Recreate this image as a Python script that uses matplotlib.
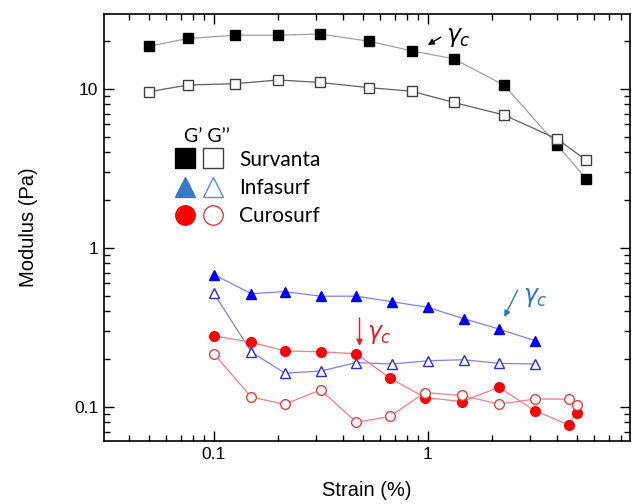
import matplotlib
matplotlib.use('Agg')
import matplotlib.pyplot as plt
from matplotlib.lines import Line2D
from matplotlib.legend_handler import HandlerTuple

# Survanta (strain %, G', G'')
surv_strain = [0.05, 0.076, 0.126, 0.2, 0.313, 0.53, 0.84, 1.32, 2.27, 4.02, 5.5]
surv_g1 = [18.6, 20.8, 21.8, 21.8, 22.2, 20.0, 17.4, 15.5, 10.6, 4.45, 2.73]
surv_g2 = [9.63, 10.6, 10.8, 11.4, 11.0, 10.2, 9.69, 8.24, 6.87, 4.85, 3.57]

# Infasurf
infa_strain = [0.1, 0.15, 0.215, 0.316, 0.464, 0.681, 1.0, 1.47, 2.15, 3.16]
infa_g1 = [0.68, 0.516, 0.531, 0.497, 0.497, 0.459, 0.423, 0.359, 0.309, 0.261]
infa_g2 = [0.519, 0.221, 0.163, 0.168, 0.190, 0.186, 0.195, 0.198, 0.188, 0.186]

# Curosurf
curo_strain = [0.1, 0.15, 0.215, 0.316, 0.464, 0.665, 0.97, 1.45, 2.15, 3.16, 4.56, 4.96]
curo_g1 = [0.280, 0.255, 0.225, 0.222, 0.216, 0.152, 0.1145, 0.108, 0.133, 0.0948, 0.077, 0.092]
curo_g2 = [0.216, 0.115, 0.104, 0.128, 0.080, 0.087, 0.123, 0.118, 0.104, 0.112, 0.112, 0.103]

plt.rcParams['font.family'] = ['Liberation Sans', 'DejaVu Sans']

fig = plt.figure(figsize=(6.32, 5.04), dpi=100)
ax = fig.add_axes([0.1646, 0.125, 0.832, 0.847])

# Survanta
ax.plot(surv_strain, surv_g1, '-', color='#a0a0a0', lw=0.9, marker='s', ms=6.5,
        mfc='black', mec='black', zorder=3)
ax.plot(surv_strain, surv_g2, '-', color='#606060', lw=0.9, marker='s', ms=6.5,
        mfc='white', mec='#404040', mew=1.0, zorder=3)

# Infasurf
ax.plot(infa_strain, infa_g1, '-', color='#8080e8', lw=0.9, marker='^', ms=7.5,
        mfc='#0000ee', mec='#0000ee', zorder=3)
ax.plot(infa_strain, infa_g2, '-', color='#8080e8', lw=0.9, marker='^', ms=7.5,
        mfc='white', mec='#2a2ae0', mew=1.0, zorder=3)

# Curosurf
ax.plot(curo_strain, curo_g1, '-', color='#f08080', lw=0.9, marker='o', ms=7,
        mfc='#ff0000', mec='#ff0000', zorder=3)
ax.plot(curo_strain, curo_g2, '-', color='#f08080', lw=0.9, marker='o', ms=7,
        mfc='white', mec='#e04040', mew=1.0, zorder=3)

ax.set_xscale('log')
ax.set_yscale('log')
ax.set_xlim(0.0307, 8.8)
ax.set_ylim(0.061, 29.6)
ax.set_xticks([0.1, 1])
ax.set_xticklabels(['0.1', '1'])
ax.set_yticks([0.1, 1, 10])
ax.set_yticklabels(['0.1', '1', '10'])

ax.tick_params(which='both', direction='in', top=True, right=True, width=1.0)
ax.tick_params(which='major', length=7, labelsize=12.5, pad=4)
ax.tick_params(which='minor', length=4)
for s in ax.spines.values():
    s.set_linewidth(1.2)

ax.set_xlabel('Strain (%)', fontsize=14.5, labelpad=14)
ax.set_ylabel('Modulus (Pa)', fontsize=14.5, labelpad=26)

# critical strain markers
arrow_kw = dict(arrowstyle='-|>', lw=1.0, mutation_scale=9, shrinkA=0, shrinkB=0)
ax.annotate('', xy=(1.0, 18.9), xytext=(1.15, 21.2),
            arrowprops=dict(color='black', **arrow_kw))
ax.text(1.22, 21.2, r'$\gamma_c$', fontsize=17, color='black', va='center')

ax.annotate('', xy=(2.28, 0.368), xytext=(2.63, 0.544),
            arrowprops=dict(color='#2a7ab8', **arrow_kw))
ax.text(2.8, 0.485, r'$\gamma_c$', fontsize=17, color='#2a7ab8', va='center')

ax.annotate('', xy=(0.48, 0.242), xytext=(0.48, 0.363),
            arrowprops=dict(color='#e02020', **arrow_kw))
ax.text(0.52, 0.284, r'$\gamma_c$', fontsize=17, color='#e02020', va='center')

# legend: G' and G'' markers side by side
h_surv = (Line2D([], [], ls='none', marker='s', ms=14, mfc='black', mec='black'),
          Line2D([], [], ls='none', marker='s', ms=14, mfc='white', mec='#404040'))
h_infa = (Line2D([], [], ls='none', marker='^', ms=15, mfc='#3a78c8', mec='#3a78c8'),
          Line2D([], [], ls='none', marker='^', ms=15, mfc='white', mec='#5a90c8'))
h_curo = (Line2D([], [], ls='none', marker='o', ms=14, mfc='#ff0000', mec='#ff0000'),
          Line2D([], [], ls='none', marker='o', ms=14, mfc='white', mec='#d04040'))
leg = ax.legend([h_surv, h_infa, h_curo], ['Survanta', 'Infasurf', 'Curosurf'],
                handler_map={tuple: HandlerTuple(ndivide=None, pad=0.5)},
                loc='center left', bbox_to_anchor=(0.102, 0.5925), frameon=False,
                handlelength=2.2, handletextpad=0.8, labelspacing=0.4,
                prop={'family': 'Lato', 'size': 15})
ax.text(0.152, 0.714, "G\u2019 G\u2019\u2019", transform=ax.transAxes,
        fontsize=14, family='Lato', ha='left', va='center')

fig.savefig('out.png', dpi=100)
